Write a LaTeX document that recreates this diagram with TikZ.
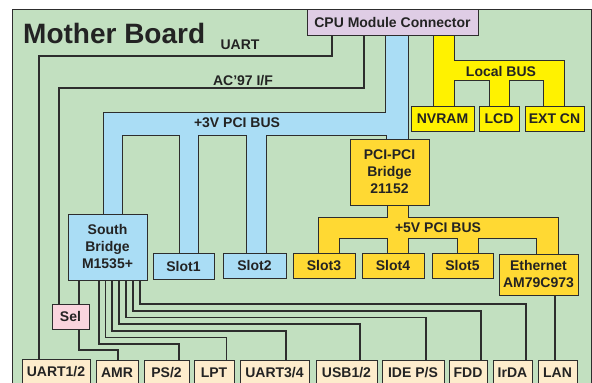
\documentclass[tikz,border=0pt]{standalone}
\usepackage{fontspec}
\setmainfont{Liberation Sans}
\definecolor{boardC}{RGB}{194,224,192}
\definecolor{blueC}{RGB}{170,221,245}
\definecolor{goldC}{RGB}{255,217,51}
\definecolor{yelC}{RGB}{255,242,0}
\definecolor{lavC}{RGB}{223,205,229}
\definecolor{pinkC}{RGB}{250,213,222}
\definecolor{beigeC}{RGB}{253,236,204}
\definecolor{lineC}{RGB}{45,45,45}
\definecolor{txtC}{RGB}{35,35,35}
\tikzset{
  box/.style={draw=lineC, line width=1pt, inner sep=0pt, align=center, text=txtC,
    font=\bfseries\fontsize{14}{17}\selectfont},
  band/.style={draw=lineC, line width=1pt, line join=miter},
  wire/.style={draw=lineC, line width=1.4pt},
  lbl/.style={text=txtC, font=\bfseries\fontsize{14}{17}\selectfont, inner sep=0pt},
}
\begin{document}
\begin{tikzpicture}[x=1pt,y=-1pt]
\useasboundingbox (0,0) rectangle (592,383);
\clip (0,0) rectangle (592,383);
% board
\filldraw[fill=boardC, draw=lineC, line width=1pt] (12,9) rectangle (591,395);
\node[lbl, anchor=base west, font=\bfseries\fontsize{28}{30}\selectfont] (title) at (23,43) {Mother Board};
% +3V PCI bus (blue)
\filldraw[band, fill=blueC] (103,214) -- (103,112) -- (385,112) -- (385,35) -- (408,35) -- (408,139)
  -- (386,139) -- (386,135) -- (266,135) -- (266,253) -- (246,253) -- (246,135) -- (198,135)
  -- (198,254) -- (179,254) -- (179,135) -- (122,135) -- (122,214) -- cycle;
% +5V PCI bus (gold)
\filldraw[band, fill=goldC] (387,205) -- (387,217) -- (318,217) -- (318,253) -- (339,253) -- (339,238)
  -- (387,238) -- (387,253) -- (408,253) -- (408,238) -- (457,238) -- (457,253) -- (478,253)
  -- (478,238) -- (536,238) -- (536,254) -- (558,254) -- (558,217) -- (408,217) -- (408,205) -- cycle;
% Local bus (yellow)
\filldraw[band, fill=yelC] (433,35) -- (433,106) -- (454,106) -- (454,80) -- (489,80) -- (489,106)
  -- (509,106) -- (509,80) -- (543,80) -- (543,106) -- (564,106) -- (564,60) -- (454,60) -- (454,35) -- cycle;
% bus labels
\node[lbl] (l3v) at (237,123) {+3V PCI BUS};
\node[lbl] (l5v) at (438,228) {+5V PCI BUS};
\node[lbl] (llb) at (501,71) {Local BUS};
\node[lbl] (luart) at (240,44.5) {UART};
\node[lbl] (lac) at (243,81) {AC’97 I/F};
% boxes
\node[box, fill=lavC, minimum width=171, minimum height=26] (cpu) at (392.5,22) {CPU Module Connector};
\node[box, fill=yelC, minimum width=63, minimum height=25] (nvram) at (442.5,118.5) {NVRAM};
\node[box, fill=yelC, minimum width=40, minimum height=25] (lcd) at (499,118.5) {LCD};
\node[box, fill=yelC, minimum width=59, minimum height=25] (extcn) at (554.5,118.5) {EXT CN};
\node[box, fill=goldC, minimum width=79, minimum height=66] (bridge) at (389.5,172) {PCI-PCI\\Bridge\\21152};
\node[box, fill=blueC, minimum width=79, minimum height=66] (sb) at (107.5,247) {South\\Bridge\\M1535+};
\node[box, fill=blueC, minimum width=61, minimum height=26] (slot1) at (183.5,266) {Slot1};
\node[box, fill=blueC, minimum width=63, minimum height=25] (slot2) at (254.5,265.5) {Slot2};
\node[box, fill=goldC, minimum width=62, minimum height=25] (slot3) at (324,265.5) {Slot3};
\node[box, fill=goldC, minimum width=62, minimum height=25] (slot4) at (393,265.5) {Slot4};
\node[box, fill=goldC, minimum width=61, minimum height=25] (slot5) at (462.5,265.5) {Slot5};
\node[box, fill=goldC, minimum width=79, minimum height=41] (eth) at (538.5,274.5) {Ethernet\\AM79C973};
\node[box, fill=pinkC, minimum width=37, minimum height=25] (sel) at (70.5,316.5) {Sel};
\node[box, fill=beigeC, minimum width=68, minimum height=26] (uart12) at (56,372) {UART1/2};
\node[box, fill=beigeC, minimum width=42, minimum height=25] (amr) at (117,372.5) {AMR};
\node[box, fill=beigeC, minimum width=45, minimum height=25] (ps2) at (166.5,372.5) {PS/2};
\node[box, fill=beigeC, minimum width=40, minimum height=25] (lpt) at (214,372.5) {LPT};
\node[box, fill=beigeC, minimum width=69, minimum height=25] (uart34) at (274.5,372.5) {UART3/4};
\node[box, fill=beigeC, minimum width=61, minimum height=25] (usb) at (346.5,372.5) {USB1/2};
\node[box, fill=beigeC, minimum width=62, minimum height=25] (ide) at (413,372.5) {IDE P/S};
\node[box, fill=beigeC, minimum width=38, minimum height=25] (fdd) at (468,372.5) {FDD};
\node[box, fill=beigeC, minimum width=39, minimum height=25] (irda) at (512.5,372.5) {IrDA};
\node[box, fill=beigeC, minimum width=39, minimum height=25] (lan) at (557.5,372.5) {LAN};
% wires
\draw[wire] (332,0 |- cpu.south) -- (332,56) -- (39,56) -- (39,0 |- uart12.north);
\draw[wire] (364,0 |- cpu.south) -- (364,88) -- (59,88) -- (59,0 |- sel.north);
\draw[wire] (79,0 |- sb.south) -- (79,0 |- sel.north);
\draw[wire] (79,0 |- sel.south) -- (79,350) -| (118,0 |- amr.north);
\draw[wire] (99,0 |- sb.south) -- (99,344) -| (179,0 |- ps2.north);
\draw[wire] (105.5,0 |- sb.south) -- (105.5,337.5) -| (226.5,0 |- lpt.north);
\draw[wire] (112,0 |- sb.south) -- (112,331) -| (286,0 |- uart34.north);
\draw[wire] (119,0 |- sb.south) -- (119,324) -| (360,0 |- usb.north);
\draw[wire] (126,0 |- sb.south) -- (126,317.5) -| (426,0 |- ide.north);
\draw[wire] (133,0 |- sb.south) -- (133,311) -| (481,0 |- fdd.north);
\draw[wire] (140,0 |- sb.south) -- (140,304) -| (526,0 |- irda.north);
\draw[wire] (555,0 |- eth.south) -- (555,0 |- lan.north);
\end{tikzpicture}
\end{document}
